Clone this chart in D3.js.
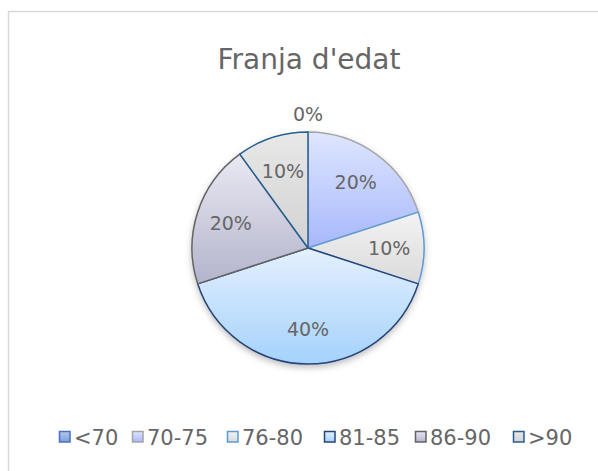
<!DOCTYPE html>
<html>
<head>
<meta charset="utf-8">
<script src="https://cdn.jsdelivr.net/npm/d3@7"></script>
<style>
  body { margin: 0; background: #fff; }
  text { font-family: "DejaVu Sans", sans-serif; fill: #666666; }
</style>
</head>
<body>
<div class="chart"></div>
<script>
const categories = ["<70", "70-75", "76-80", "81-85", "86-90", ">90"];
const values = [0, 20, 10, 40, 20, 10];
const labels = ["0%", "20%", "10%", "40%", "20%", "10%"];

// fill gradients (top, bottom) and outline colour for each slice
const fillTop = ["#b4c7ec", "#dfe6ff", "#f3f3f3", "#e4f0ff", "#e9e9f2", "#e8e8e8"];
const fillBottom = ["#7f9fd8", "#a6b8fb", "#dadada", "#a5d2fb", "#b3b3cc", "#d2d2d2"];
const strokes = ["#4472c4", "#a5a5a5", "#5b9bd5", "#264478", "#636363", "#255e91"];

const width = 598, height = 471;
const cx = 308, cy = 248, r = 116;

const svg = d3.select('.chart').append('svg')
    .attr("width", width)
    .attr("height", height);

const defs = svg.append("defs");

categories.forEach((c, i) => {
    const g = defs.append("linearGradient")
        .attr("id", "grad" + i)
        .attr("x1", 0).attr("y1", 0).attr("x2", 0).attr("y2", 1);
    g.append("stop").attr("offset", "0%").attr("stop-color", fillTop[i]);
    g.append("stop").attr("offset", "100%").attr("stop-color", fillBottom[i]);
});

const shadow = defs.append("filter").attr("id", "shadow")
    .attr("x", "-20%").attr("y", "-20%").attr("width", "140%").attr("height", "140%");
shadow.append("feDropShadow")
    .attr("dx", 0).attr("dy", 3).attr("stdDeviation", 3)
    .attr("flood-color", "#000").attr("flood-opacity", 0.25);

// chart area border
svg.append("rect")
    .attr("x", 8.5).attr("y", 11.5)
    .attr("width", 600).attr("height", 480)
    .attr("fill", "none")
    .attr("stroke", "#d9d9d9")
    .attr("stroke-width", 1.5);

svg.append("text")
    .attr("x", 309)
    .attr("y", 69)
    .attr("text-anchor", "middle")
    .attr("font-size", "28px")
    .attr("fill", "#707070")
    .text("Franja d'edat");

const pie = d3.pie().sort(null).value(d => d.value);
const arcs = pie(categories.map((c, i) => ({cat: c, value: values[i], label: labels[i], i: i})));

const arc = d3.arc().innerRadius(0).outerRadius(r);
const labelArc = d3.arc().innerRadius(r * 0.7).outerRadius(r * 0.7);

const pieG = svg.append("g")
    .attr("transform", `translate(${cx},${cy})`);

pieG.append("g")
    .attr("filter", "url(#shadow)")
    .selectAll("path")
    .data(arcs)
    .enter()
    .append("path")
    .attr("d", arc)
    .attr("fill", d => `url(#grad${d.data.i})`)
    .attr("stroke", d => strokes[d.data.i])
    .attr("stroke-width", 1.5)
    .attr("stroke-linejoin", "round");

pieG.selectAll(".lbl")
    .data(arcs)
    .enter()
    .append("text")
    .attr("class", "lbl")
    .attr("text-anchor", "middle")
    .attr("dy", "0.36em")
    .attr("font-size", "19px")
    .attr("transform", d => {
        if (d.data.value === 0) {
            return `translate(${Math.sin(d.startAngle) * (r + 18)},${-Math.cos(d.startAngle) * (r + 18)})`;
        }
        return `translate(${labelArc.centroid(d)})`;
    })
    .text(d => d.data.label);

// legend
const legendX = [59, 132, 227, 324, 415, 513];
const legend = svg.append("g").attr("class", "legend");
const items = legend.selectAll("g")
    .data(categories)
    .enter()
    .append("g")
    .attr("transform", (d, i) => `translate(${legendX[i]},437)`);

items.append("rect")
    .attr("x", 0.5).attr("y", -5.5)
    .attr("width", 10.5).attr("height", 10.5)
    .attr("fill", (d, i) => `url(#grad${i})`)
    .attr("stroke", (d, i) => strokes[i])
    .attr("stroke-width", 1.5);

items.append("text")
    .attr("x", 15)
    .attr("dy", "0.36em")
    .attr("font-size", "21px")
    .text(d => d);
</script>
</body>
</html>
